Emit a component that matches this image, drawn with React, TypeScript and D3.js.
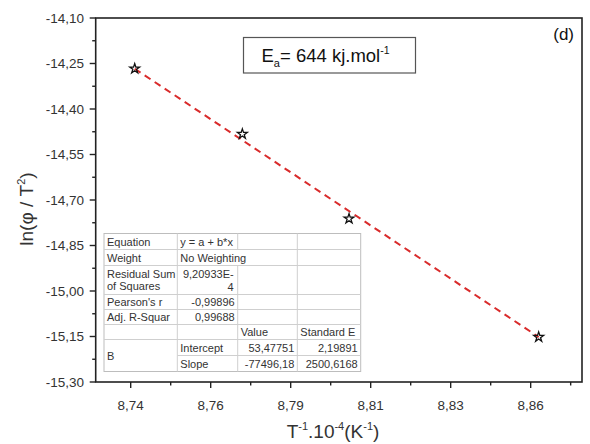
import React from "react";
import * as d3 from "d3";

const xValues = [8.7412, 8.7735, 8.8055, 8.8624];
const yValues = [-14.2672, -14.4825, -14.7617, -15.1518];
const fitX = [8.7412, 8.8624];
const fitY = [-14.2672, -15.1518];

const xTickValues = [8.74, 8.764, 8.788, 8.812, 8.836, 8.86];
const xTickLabels = ["8,74", "8,76", "8,79", "8,81", "8,83", "8,86"];
const yTickValues = [-14.1, -14.25, -14.4, -14.55, -14.7, -14.85, -15.0, -15.15, -15.3];
const yTickLabels = ["-14,10", "-14,25", "-14,40", "-14,55", "-14,70", "-14,85", "-15,00", "-15,15", "-15,30"];

const tableCol1 = ["Equation", "Weight", "Residual Sum|of Squares", "Pearson's r", "Adj. R-Squar", "", "B", ""];
const tableCol2 = ["y = a + b*x", "No Weighting", "9,20933E-|4", "-0,99896", "0,99688", "", "Intercept", "Slope"];
const tableCol3 = ["", "", "", "", "", "Value", "53,47751", "-77496,18"];
const tableCol4 = ["", "", "", "", "", "Standard E", "2,19891", "2500,6168"];

const W = 590;
const H = 444;
const M = { left: 95.7, right: 582, top: 18, bottom: 382 };
const FONT = "Arial, 'Liberation Sans', sans-serif";
const TXT = "#333";

export default function App() {
  const x = d3.scaleLinear().domain([8.7295, 8.8754]).range([M.left, M.right]);
  const y = d3.scaleLinear().domain([-14.1, -15.3]).range([M.top, M.bottom]);

  const xMinor = xTickValues.map((v) => v + 0.012);
  const yMinor = yTickValues.slice(0, -1).map((v) => v - 0.075);

  const line = d3
    .line<number>()
    .x((_, i) => x(fitX[i]))
    .y((d) => y(d));
  const star = d3.symbol().type(d3.symbolStar).size(30)();

  // table layout
  const tLeft = 104;
  const tTop = 233.5;
  const colX = [tLeft, 177.3, 237.7, 297.3, 360.7];
  const rowH = [16, 16, 29, 15, 15, 15, 16, 16];
  const rowY: number[] = [tTop];
  rowH.forEach((h, i) => rowY.push(rowY[i] + h));
  const tBottom = rowY[rowY.length - 1];
  const lineC = "#cfcfcf";
  const fs = 11;

  const cellText = (
    txt: string,
    col: number,
    row: number,
    align: "left" | "right",
    key: string
  ) => {
    if (!txt) return null;
    const lines = txt.split("|");
    const top = rowY[row];
    const h = rowH[row];
    const tx = align === "left" ? colX[col] + 3 : colX[col + 1] - 3;
    return lines.map((l, j) => {
      const cy = top + h / 2 + (j - (lines.length - 1) / 2) * 12.7;
      return (
        <text
          key={key + "-" + j}
          x={tx}
          y={cy + 4}
          fontSize={fs}
          fill={TXT}
          textAnchor={align === "left" ? "start" : "end"}
        >
          {l}
        </text>
      );
    });
  };

  return (
    <svg
      width={W}
      height={H}
      style={{ position: "fixed", left: 0, top: 0, background: "#fff" }}
      fontFamily={FONT}
    >
      <rect x={0} y={0} width={W} height={H} fill="#fff" />

      {/* fit line */}
      <path
        d={line(fitY) || ""}
        fill="none"
        stroke="#d92b2b"
        strokeWidth={2}
        strokeDasharray="7,5"
      />
      {/* points */}
      {xValues.map((v, i) => (
        <path
          key={"s" + i}
          d={star || ""}
          transform={`translate(${x(v)},${y(yValues[i])})`}
          fill="none"
          stroke="#111"
          strokeWidth={1.3}
        />
      ))}

      {/* Ea box */}
      <rect x={243.5} y={37.5} width={172} height={35.5} fill="#fff" stroke="#555" strokeWidth={1.2} />
      <text x={261.5} y={62} fontSize={18.5} fill="#111">
        E
        <tspan fontSize={11} dy={5}>a</tspan>
        <tspan dy={-5}>= 644 kj.mol</tspan>
        <tspan fontSize={10.5} dy={-8}>-1</tspan>
      </text>

      {/* (d) */}
      <text x={574} y={40} fontSize={17} fill="#111" textAnchor="end">(d)</text>

      {/* table */}
      <g>
        <rect x={tLeft} y={tTop} width={colX[4] - tLeft} height={tBottom - tTop} fill="#fff" stroke="#bdbdbd" strokeWidth={1} />
        {rowY.slice(1, -1).map((ry, i) => (
          <line
            key={"hr" + i}
            x1={i === 6 ? colX[1] : tLeft}
            x2={colX[4]}
            y1={ry}
            y2={ry}
            stroke={lineC}
            strokeWidth={1}
          />
        ))}
        {colX.slice(1, -1).map((cx, ci) => (
          <g key={"vc" + ci}>
            {rowH.map((_, ri) =>
              ci === 1 && ri === 1 ? null : (
                <line
                  key={"v" + ci + "-" + ri}
                  x1={cx}
                  x2={cx}
                  y1={rowY[ri]}
                  y2={rowY[ri + 1]}
                  stroke={lineC}
                  strokeWidth={1}
                />
              )
            )}
          </g>
        ))}
        {tableCol1.map((t, i) =>
          i === 6
            ? (
              <text key="b" x={colX[0] + 3} y={(rowY[6] + rowY[8]) / 2 + 4} fontSize={fs} fill={TXT}>
                {t}
              </text>
            )
            : cellText(t, 0, i, "left", "c1-" + i)
        )}
        {tableCol2.map((t, i) => {
          if (i === 2) {
            const [a, b] = t.split("|");
            return (
              <g key="c2-2">
                <text x={colX[2] - 4} y={rowY[2] + 8.2 + 4} fontSize={fs} fill={TXT} textAnchor="end">{a}</text>
                <text x={colX[2] - 4} y={rowY[2] + 21 + 4} fontSize={fs} fill={TXT} textAnchor="end">{b}</text>
              </g>
            );
          }
          const align = i === 0 || i === 1 || i >= 6 ? "left" : "right";
          return cellText(t, 1, i, align, "c2-" + i);
        })}
        {tableCol3.map((t, i) => cellText(t, 2, i, i === 5 ? "left" : "right", "c3-" + i))}
        {tableCol4.map((t, i) => cellText(t, 3, i, i === 5 ? "left" : "right", "c4-" + i))}
      </g>

      {/* frame */}
      <rect
        x={M.left}
        y={M.top}
        width={M.right - M.left}
        height={M.bottom - M.top}
        fill="none"
        stroke="#222"
        strokeWidth={1.6}
      />

      {/* y ticks */}
      {yTickValues.map((v, i) => (
        <g key={"yt" + i}>
          <line x1={M.left - 6} x2={M.left} y1={y(v)} y2={y(v)} stroke="#222" strokeWidth={1.4} />
          <text x={84} y={y(v) + 4.6} fontSize={13.5} fill={TXT} textAnchor="end">
            {yTickLabels[i]}
          </text>
        </g>
      ))}
      {yMinor.map((v, i) => (
        <line key={"ym" + i} x1={M.left - 3.5} x2={M.left} y1={y(v)} y2={y(v)} stroke="#222" strokeWidth={1.4} />
      ))}

      {/* x ticks */}
      {xTickValues.map((v, i) => (
        <g key={"xt" + i}>
          <line x1={x(v)} x2={x(v)} y1={M.bottom} y2={M.bottom + 6} stroke="#222" strokeWidth={1.4} />
          <text x={x(v)} y={410} fontSize={13.5} fill={TXT} textAnchor="middle">
            {xTickLabels[i]}
          </text>
        </g>
      ))}
      {xMinor.map((v, i) => (
        <line key={"xm" + i} x1={x(v)} x2={x(v)} y1={M.bottom} y2={M.bottom + 3.5} stroke="#222" strokeWidth={1.4} />
      ))}

      {/* axis titles */}
      <text x={333} y={438} fontSize={19} fill={TXT} textAnchor="middle">
        T<tspan fontSize={11} dy={-8}>-1</tspan>
        <tspan dy={8}>.10</tspan>
        <tspan fontSize={11} dy={-8}>-4</tspan>
        <tspan dy={8}>(K</tspan>
        <tspan fontSize={11} dy={-8}>-1</tspan>
        <tspan dy={8}>)</tspan>
      </text>
      <text transform="translate(33,209) rotate(-90)" fontSize={19} fill={TXT} textAnchor="middle">
        ln(φ / T<tspan fontSize={11} dy={-8}>2</tspan>
        <tspan dy={8}>)</tspan>
      </text>
    </svg>
  );
}
